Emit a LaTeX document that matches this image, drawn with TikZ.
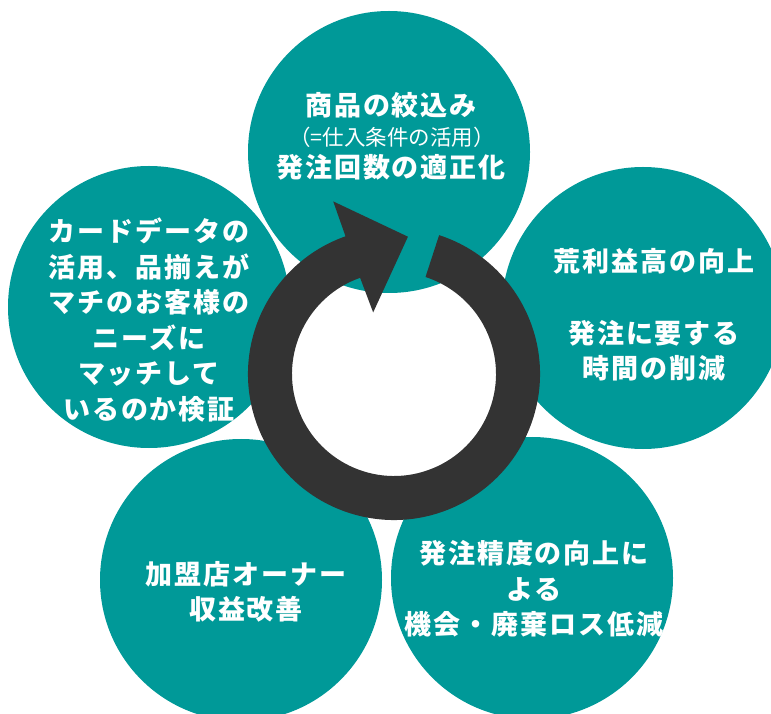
\documentclass[tikz,border=0pt]{standalone}
\usepackage{fontspec}
\usetikzlibrary{calc}
\newfontfamily\jp{Noto Sans CJK JP}
\definecolor{tealc}{RGB}{0,153,152}
\definecolor{ringc}{RGB}{51,51,51}
\tikzset{
  bubble/.style={circle, fill=tealc, inner sep=0pt, minimum size=282pt},
  bigtxt/.style={text=white, align=center, inner sep=0pt,
    font=\jp\bfseries\fontsize{27}{35.5}\selectfont\addfontfeatures{LetterSpace=7}},
  smalltxt/.style={text=white, align=center, inner sep=0pt,
    font=\jp\fontsize{21.5}{24}\selectfont}
}
\begin{document}
\begin{tikzpicture}[x=1pt,y=1pt]
\useasboundingbox (0,0) rectangle (771,713);
\clip (0,0) rectangle (771,713);
% circles
\node[bubble] (ctop) at (389,561) {};
\node[bubble] (cleft) at (149,406) {};
\node[bubble] (cright) at (643,405) {};
\node[bubble] (cbl) at (241,133) {};
\node[bubble] (cbr) at (532,135) {};
% cycle arrow
\coordinate (rc) at (394,339);
\fill[ringc] ($(rc)+(72:146pt)$) arc[start angle=72, end angle=-250.6, radius=146pt]
  -- ($(rc)+(109.4:183pt)$) -- ($(rc)+(84.2:138pt)$) -- ($(rc)+(108.7:65pt)$)
  -- ($(rc)+(109.4:102pt)$) arc[start angle=-250.6, end angle=72, radius=102pt] -- cycle;
% texts
\node[bigtxt] (t1) at (391,608) {商品の絞込み};
\node[smalltxt] (t2) at (392,576) {（=仕入条件の活用）};
\node[bigtxt] (t3) at (391,546) {発注回数の適正化};
\node[bigtxt] (tl) at (149,393) {カードデータの\\活用、品揃えが\\マチのお客様の\\ニーズに\\マッチして\\いるのか検証};
\node[bigtxt] (tr) at (654,398) {荒利益高の向上\\[36pt]発注に要する\\時間の削減};
\node[bigtxt] (tbl) at (246,121) {加盟店オーナー\\収益改善};
\node[bigtxt] (tbr) at (534,124) {発注精度の向上に\\よる\\機会・廃棄ロス低減};
\end{tikzpicture}
\end{document}
